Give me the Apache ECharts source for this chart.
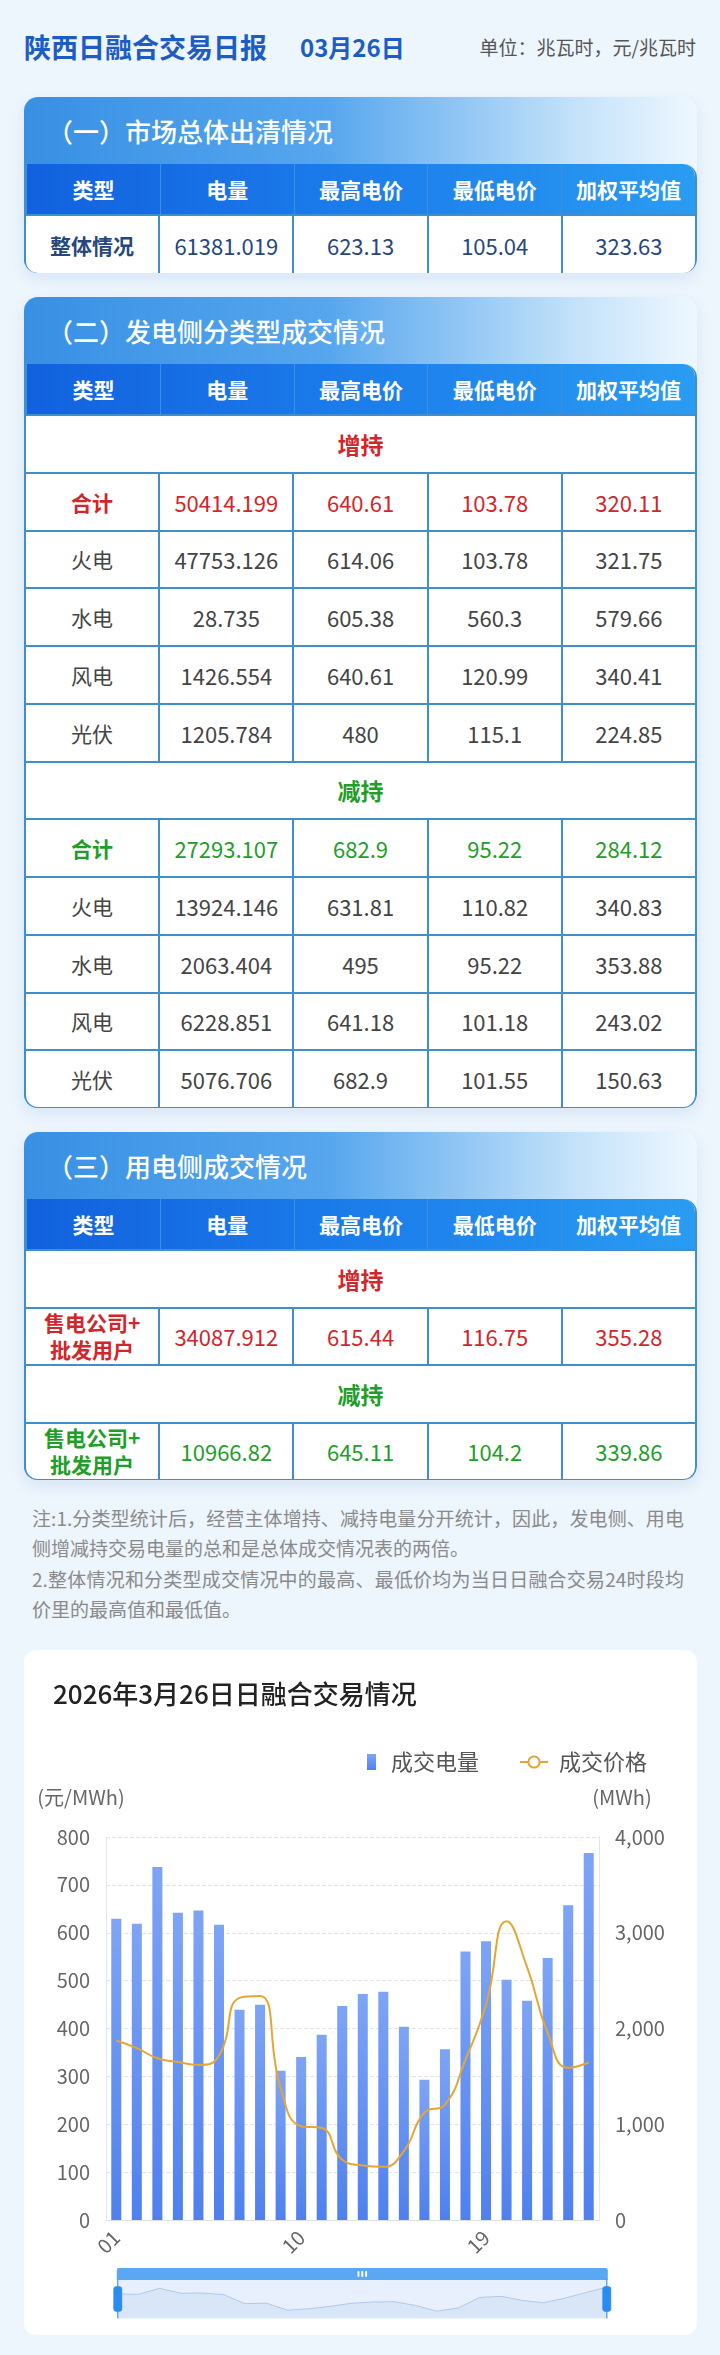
<!DOCTYPE html>
<html>
<head>
<meta charset="utf-8">
<script src="https://cdn.jsdelivr.net/npm/echarts@6/dist/echarts.min.js"></script>
<style>
*{box-sizing:border-box;margin:0;padding:0}
body{width:720px;height:2355px;background:#edf5fd;font-family:"Noto Sans CJK SC","Noto Sans",sans-serif;position:relative;overflow:hidden}
.ttl{position:absolute;left:24px;top:28px;line-height:38px;font-size:27px;font-weight:700;color:#1c5cc4}
.date{position:absolute;left:300px;top:29px;line-height:36px;font-size:24px;font-weight:700;color:#1c5cc4}
.unit{position:absolute;right:24px;top:33px;line-height:28px;font-size:19px;color:#555}
.card{position:absolute;left:24px;width:673px;border-radius:14px;overflow:hidden;
  background:linear-gradient(90deg,#3890e4 0%,#56a6ee 45%,#c4e2fa 82%,#eef7ff 100%);
  box-shadow:0 6px 14px rgba(90,140,200,.14)}
.sec{height:67px;line-height:67px;padding-left:23px;color:#fff;font-size:26px;font-weight:500}
.tbl{background:#fff;border:2px solid #3f8fcd;border-top:none;border-radius:0 14px 14px 14px;overflow:hidden}
.row{display:flex;border-top:2px solid #3f8fcd}
.row.hd{border-top:none;height:50px;border-radius:0 12px 0 0;
  background:linear-gradient(90deg,#1261de 0%,#1d80ec 55%,#2a9cf2 100%)}
.row.hd .c{border-left:1.5px solid #3d8fe0;color:#fff;font-weight:700;font-size:21px}
.c{flex:1;display:flex;align-items:center;justify-content:center;text-align:center;border-left:2px solid #3f8fcd;font-size:22px;color:#444}
.c:first-child{border-left:none}
.c.lab{font-size:21px}
.full{flex:1;display:flex;align-items:center;justify-content:center;font-size:23px;font-weight:700}
.red{color:#d3262a}
.green{color:#1f9e2a}
.b{font-weight:700}
.navy{color:#27477c}
.c.two{font-size:21px;line-height:27px;font-weight:700}
.note{position:absolute;left:32px;width:652px;font-size:19px;line-height:30px;color:#8a8a8a;white-space:nowrap}
.note.j{text-align:justify;text-align-last:justify}
#main{position:absolute;left:24px;top:1650px;width:673px;height:685px;background:#fff;border-radius:12px}
</style>
</head>
<body>
<div class="ttl">陕西日融合交易日报</div>
<div class="date">03月26日</div>
<div class="unit">单位：兆瓦时，元/兆瓦时</div>

<div class="card" id="c1" style="top:97px;height:176px"></div>
<div class="card" id="c2" style="top:297px;height:811px"></div>
<div class="card" id="c3" style="top:1132px;height:348px"></div>

<div class="note j" style="top:1503px">注:1.分类型统计后，经营主体增持、减持电量分开统计，因此，发电侧、用电</div>
<div class="note" style="top:1533px">侧增减持交易电量的总和是总体成交情况表的两倍。</div>
<div class="note j" style="top:1564px">2.整体情况和分类型成交情况中的最高、最低价均为当日日融合交易24时段均</div>
<div class="note" style="top:1594px">价里的最高值和最低值。</div>

<div id="main"></div>

<script>
var headers = ['类型', '电量', '最高电价', '最低电价', '加权平均值']

var overall = ['整体情况', '61381.019', '623.13', '105.04', '323.63']

var genUpTotal = ['合计', '50414.199', '640.61', '103.78', '320.11']
var genUpRows = [
	['火电', '47753.126', '614.06', '103.78', '321.75'],
	['水电', '28.735', '605.38', '560.3', '579.66'],
	['风电', '1426.554', '640.61', '120.99', '340.41'],
	['光伏', '1205.784', '480', '115.1', '224.85']
]
var genDownTotal = ['合计', '27293.107', '682.9', '95.22', '284.12']
var genDownRows = [
	['火电', '13924.146', '631.81', '110.82', '340.83'],
	['水电', '2063.404', '495', '95.22', '353.88'],
	['风电', '6228.851', '641.18', '101.18', '243.02'],
	['光伏', '5076.706', '682.9', '101.55', '150.63']
]
var loadUp = ['售电公司+<br>批发用户', '34087.912', '615.44', '116.75', '355.28']
var loadDown = ['售电公司+<br>批发用户', '10966.82', '645.11', '104.2', '339.86']

// chart data, 24 periods
var hours = ['01','02','03','04','05','06','07','08','09','10','11','12',
	'13','14','15','16','17','18','19','20','21','22','23','24']
var volume = [3145, 3095, 3687, 3210, 3232, 3083, 2196, 2248, 1560, 1702, 1935, 2236,
	2360, 2384, 2019, 1466, 1782, 2805, 2910, 2509, 2290, 2735, 3288, 3833]
var price = [375, 359, 338, 330, 324, 343, 464, 468, 276, 196, 192, 126,
	114, 111, 144, 224, 241, 335, 450, 624, 528, 391, 318, 329]

function row(cells, h, cls, labCls){
	var html = '<div class="row" style="height:' + h + 'px">'
	cells.forEach(function(v, i){
		var c = 'c ' + (i === 0 ? 'lab ' + (labCls || '') : (cls || ''))
		html += '<div class="' + c + '">' + v + '</div>'
	})
	return html + '</div>'
}
function full(text, h, cls){
	return '<div class="row" style="height:' + h + 'px"><div class="full ' + cls + '">' + text + '</div></div>'
}
function head(){
	return '<div class="row hd">' + headers.map(function(t){
		return '<div class="c">' + t + '</div>'
	}).join('') + '</div>'
}
function card(id, title, body){
	document.getElementById(id).innerHTML = '<div class="sec">' + title + '</div>' +
		'<div class="tbl">' + head() + body + '</div>'
}

card('c1', '（一）市场总体出清情况', row(overall, 59, 'navy', 'b navy'))

var h2 = 57.75
var body2 = full('增持', h2, 'red') + row(genUpTotal, h2, 'red', 'b red')
genUpRows.forEach(function(r){ body2 += row(r, h2, '', '') })
body2 += full('减持', h2, 'green') + row(genDownTotal, h2, 'green', 'b green')
genDownRows.forEach(function(r){ body2 += row(r, h2, '', '') })
card('c2', '（二）发电侧分类型成交情况', body2)

var h3 = 57.5
var body3 = full('增持', h3, 'red') + row(loadUp, h3, 'red', 'two red') +
	full('减持', h3, 'green') + row(loadDown, h3, 'green', 'two green')
card('c3', '（三）用电侧成交情况', body3)

var font = '"Noto Sans CJK SC", "Noto Sans", sans-serif'
var chart = echarts.init(document.getElementById('main'))
chart.setOption({
	textStyle: { fontFamily: font },
	title: {
		text: '2026年3月26日日融合交易情况',
		left: 24, top: 26,
		textStyle: { fontSize: 26, fontWeight: 500, color: '#222', fontFamily: font }
	},
	legend: [{
		data: ['成交电量'], left: 338, top: 96,
		itemWidth: 9, itemHeight: 16, icon: 'rect',
		textStyle: { fontSize: 22, color: '#555', padding: [0, 0, 0, 10] }
	}, {
		data: ['成交价格'], left: 490, top: 96,
		itemWidth: 28, itemHeight: 14,
		textStyle: { fontSize: 22, color: '#555', padding: [0, 0, 0, 6] }
	}],
	grid: { left: 82, right: 98, top: 187, bottom: 115 },
	xAxis: {
		type: 'category',
		data: hours,
		axisTick: { show: false },
		axisLine: { lineStyle: { color: '#dde1e8' } },
		axisLabel: { rotate: 45, interval: 8, fontSize: 20, color: '#666', margin: 14 }
	},
	yAxis: [{
		type: 'value', min: 0, max: 800, interval: 100,
		name: '(元/MWh)', nameGap: 30,
		nameTextStyle: { fontSize: 20, color: '#666', padding: [0, 50, 0, 0] },
		axisLine: { show: true, lineStyle: { color: '#e3e6ec' } },
		axisLabel: { fontSize: 20, color: '#666', margin: 16 },
		splitLine: { lineStyle: { type: 'dashed', color: '#e3e3e3' } }
	}, {
		type: 'value', min: 0, max: 4000, interval: 1000,
		name: '(MWh)', nameGap: 30,
		nameTextStyle: { fontSize: 20, color: '#666', padding: [0, 0, 0, 46] },
		axisLine: { show: true, lineStyle: { color: '#e3e6ec' } },
		axisLabel: { fontSize: 20, color: '#666', margin: 16 },
		splitLine: { show: false }
	}],
	dataZoom: [{
		type: 'slider', start: 0, end: 100,
		left: 88, right: 94, top: 618, height: 39,
		showDetail: false, brushSelect: true,
		borderColor: 'transparent',
		backgroundColor: 'rgba(0,0,0,0)',
		fillerColor: 'rgba(60,130,230,0.12)',
		handleSize: '100%',
		handleStyle: { color: '#2a8cf0', borderColor: '#2a8cf0' },
		moveHandleSize: 12,
		moveHandleStyle: { color: '#5aa8f4', opacity: 1 },
		dataBackground: { lineStyle: { color: '#8ea9d6' }, areaStyle: { color: '#c9d8ef' } },
		selectedDataBackground: { lineStyle: { color: '#8ea9d6' }, areaStyle: { color: '#c9d8ef' } }
	}],
	series: [{
		name: '成交电量',
		type: 'bar',
		yAxisIndex: 1,
		barWidth: 10,
		data: volume,
		itemStyle: {
			color: new echarts.graphic.LinearGradient(0, 0, 0, 1, [
				{ offset: 0, color: '#7ea4f6' },
				{ offset: 1, color: '#4f80ee' }
			])
		}
	}, {
		name: '成交价格',
		type: 'line',
		yAxisIndex: 0,
		smooth: true,
		showSymbol: false,
		data: price,
		lineStyle: { color: '#e6a535', width: 2 },
		itemStyle: { color: '#e6a535' }
	}]
})
</script>
</body>
</html>
